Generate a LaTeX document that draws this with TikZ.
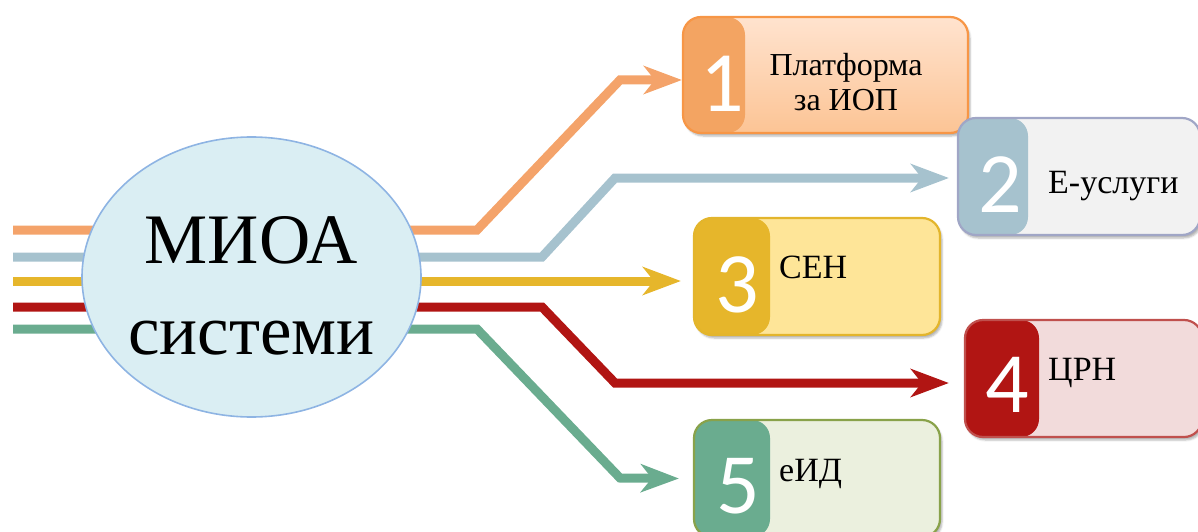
\documentclass[tikz,border=0pt]{standalone}
\usepackage{fontspec}
\setmainfont{Liberation Serif}
\newfontfamily\numfont{Carlito}
\usetikzlibrary{arrows.meta,shapes.geometric,shadows.blur}

\definecolor{cOrange}{HTML}{F4A36A}
\definecolor{cOrangeDark}{HTML}{F3A462}
\definecolor{cOrangeTop}{HTML}{FFE3CF}
\definecolor{cOrangeBot}{HTML}{FCC495}
\definecolor{cOrangeEdge}{HTML}{F79646}
\definecolor{cBlue}{HTML}{A6C2CE}
\definecolor{cBlueLight}{HTML}{F2F2F2}
\definecolor{cBlueEdge}{HTML}{A0A6C6}
\definecolor{cYellow}{HTML}{E6B62B}
\definecolor{cYellowLight}{HTML}{FEE598}
\definecolor{cYellowEdge}{HTML}{E3B52C}
\definecolor{cRed}{HTML}{B11513}
\definecolor{cRedLight}{HTML}{F2DBDB}
\definecolor{cRedEdge}{HTML}{C0504D}
\definecolor{cGreen}{HTML}{6AAC8F}
\definecolor{cGreenLight}{HTML}{EBF0DE}
\definecolor{cGreenEdge}{HTML}{89A24A}
\definecolor{cCore}{HTML}{DAEEF3}
\definecolor{cCoreEdge}{HTML}{8EB4E3}

\begin{document}
\begin{tikzpicture}[x=1pt,y=-1pt,
  flow/.style={line width=9pt, line join=miter,
    -{Stealth[length=38pt,width=28pt,inset=11pt]}},
  card/.style n args={4}{draw=#1, fill=#2, line width=2.2pt,
    rounded corners=18pt, inner sep=0pt,
    blur shadow={shadow xshift=2pt, shadow yshift=-3pt, shadow opacity=30},
    path picture={\fill[#3] (path picture bounding box.north west)
      rectangle ([xshift=#4]path picture bounding box.south west);}},
  digit/.style={text=white, font=\numfont\fontsize{86}{86}\selectfont,
    inner sep=0pt, text depth=0pt, anchor=base},
  caption/.style={font=\fontsize{34}{36}\selectfont, inner sep=0pt, anchor=base west}]

\clip (0,0) rectangle (1198,532);
\useasboundingbox (0,0) rectangle (1198,532);

% starting points of the five flows
\coordinate (s1) at (13,230);
\coordinate (s2) at (13,257);
\coordinate (s3) at (13,281);
\coordinate (s4) at (13,307);
\coordinate (s5) at (13,329);

% target cards
\node[card={cOrangeEdge}{cOrangeBot}{cOrangeDark}{62pt},
  top color=cOrangeTop, bottom color=cOrangeBot,
  minimum width=285pt, minimum height=116pt] (b1) at (825.5,75) {};
\node[card={cBlueEdge}{cBlueLight}{cBlue}{70pt},
  minimum width=242pt, minimum height=117pt] (b2) at (1079,176.5) {};
\node[card={cYellowEdge}{cYellowLight}{cYellow}{76pt},
  minimum width=246pt, minimum height=117pt] (b3) at (817,276.5) {};
\node[card={cRedEdge}{cRedLight}{cRed}{74pt},
  minimum width=237pt, minimum height=117pt] (b4) at (1083.5,378.5) {};
\node[card={cGreenEdge}{cGreenLight}{cGreen}{76pt},
  minimum width=246pt, minimum height=117pt] (b5) at (817,478.5) {};

% flows
\draw[flow, cOrange] (s1) -- (477,230) -- (620,80) -- ([yshift=-5pt]b1.west);
\draw[flow, cBlue] (s2) -- (542,257) -- (615,178) -- ([xshift=-8pt,yshift=-1.5pt]b2.west);
\draw[flow, cYellow] (s3) -- ([xshift=-12pt,yshift=-4.5pt]b3.west);
\draw[flow, cRed] (s4) -- (542,307) -- (615,383) -- ([xshift=-15pt,yshift=-4.5pt]b4.west);
\draw[flow, cGreen] (s5) -- (477,329) -- (620,478) -- ([xshift=-14pt]b5.west);

% central system
\node[ellipse, draw=cCoreEdge, fill=cCore, line width=1.6pt,
  minimum width=339pt, minimum height=280pt] (core) at (251.5,277) {};
\node[font=\fontsize{71}{91}\selectfont, align=center, inner sep=0pt]
  (coretext) at (251.5,286) {МИОА\\системи};

% numbers
\node[digit] (n1) at (722,112) {1};
\node[digit] (n2) at (1000,212) {2};
\node[digit] (n3) at (737,312) {3};
\node[digit] (n4) at (1007,412) {4};
\node[digit] (n5) at (738,513) {5};

% captions
\node[font=\fontsize{32}{35}\selectfont, align=center, inner sep=0pt]
  (t1) at (846,82) {Платформа\\за ИОП};
\node[caption] (t2) at (1048,193) {Е-услуги};
\node[caption] (t3) at (779,278) {СЕН};
\node[caption] (t4) at (1048,380) {ЦРН};
\node[caption] (t5) at (779,481) {еИД};
\end{tikzpicture}
\end{document}
